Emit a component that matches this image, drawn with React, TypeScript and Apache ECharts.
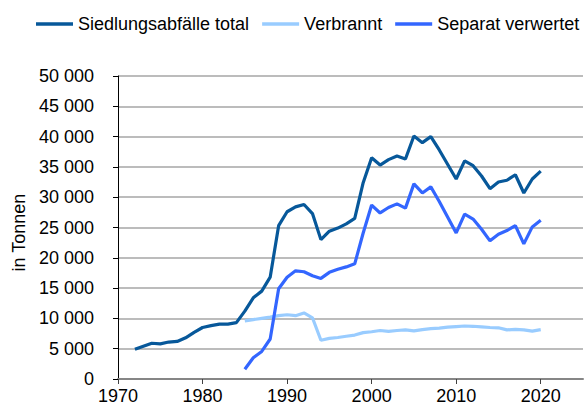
import React, { useEffect, useRef } from "react";
import * as echarts from "echarts";

const seriesNames = ["Siedlungsabfälle total", "Verbrannt", "Separat verwertet"];
const seriesColors = ["#07589a", "#99ccff", "#3366ff"];

const totalStartYear = 1972;
const totalValues = [
  4900, 5400, 5900, 5800, 6100, 6200, 6800, 7700, 8500, 8800,
  9050, 9050, 9300, 11200, 13400, 14500, 16800, 25300, 27600, 28400,
  28800, 27300, 23000, 24400, 24900, 25600, 26500, 32400, 36500, 35300,
  36200, 36800, 36300, 40100, 39000, 40000, 37800, 35400, 33000, 36000,
  35200, 33500, 31400, 32500, 32800, 33700, 30700, 33000, 34300,
];

const verbranntStartYear = 1985;
const verbranntValues = [
  9600, 9800, 10000, 10200, 10450, 10600, 10450, 10900, 10100, 6400,
  6700, 6850, 7050, 7250, 7650, 7800, 8000, 7850, 8000, 8100,
  7950, 8150, 8300, 8400, 8550, 8650, 8750, 8700, 8600, 8500,
  8450, 8100, 8200, 8100, 7900, 8150,
];

const separatStartYear = 1985;
const separatValues = [
  1600, 3500, 4550, 6600, 14900, 16800, 17850, 17700, 17050, 16600,
  17600, 18100, 18500, 19000, 24100, 28700, 27400, 28300, 28900, 28200,
  32200, 30700, 31700, 29300, 26700, 24100, 27200, 26400, 24700, 22800,
  23900, 24500, 25300, 22300, 25100, 26200,
];

const xTickLabels = [1970, 1980, 1990, 2000, 2010, 2020];
const xMin = 1970;
const xMax = 2025;
const yMin = 0;
const yMax = 50000;
const yInterval = 5000;
const yAxisName = "in Tonnen";

const toPairs = (start: number, vals: number[]) => vals.map((v, i) => [start + i, v]);

const FONT = "'Liberation Sans', Arial, sans-serif";
const FS = 18;

export default function App() {
  const ref = useRef<HTMLDivElement>(null);
  useEffect(() => {
    if (!ref.current) return;
    const chart = echarts.init(ref.current, undefined, { renderer: "svg" });
    const datasets = [
      toPairs(totalStartYear, totalValues),
      toPairs(verbranntStartYear, verbranntValues),
      toPairs(separatStartYear, separatValues),
    ];
    chart.setOption({
      animation: false,
      backgroundColor: "#ffffff",
      textStyle: { fontFamily: FONT },
      legend: {
        left: 31,
        top: 10,
        itemWidth: 37,
        itemHeight: 3.5,
        itemGap: 13,
        icon: "rect",
        textStyle: { fontSize: FS, color: "#000", fontFamily: FONT },
        data: seriesNames,
      },
      grid: { left: 118, right: 2, top: 76, bottom: 28, containLabel: false },
      xAxis: {
        type: "value",
        min: xMin,
        max: xMax,
        interval: 10,
        axisLine: { show: true, lineStyle: { color: "#868686", width: 2 } },
        axisTick: { show: true, length: 5, lineStyle: { color: "#404040" }, customValues: xTickLabels },
        axisLabel: {
          customValues: xTickLabels,
          fontSize: FS,
          color: "#000",
          fontFamily: FONT,
          margin: 8,
          formatter: (v: number) => String(v),
        },
        splitLine: { show: false },
      },
      yAxis: {
        type: "value",
        min: yMin,
        max: yMax,
        interval: yInterval,
        name: yAxisName,
        nameLocation: "middle",
        nameGap: 88,
        nameTextStyle: { fontSize: FS, color: "#000", fontFamily: FONT, padding: [0, 10, 0, 0] },
        axisLine: { show: true, lineStyle: { color: "#000", width: 1 } },
        axisTick: { show: true, length: 5, lineStyle: { color: "#000" } },
        axisLabel: {
          fontSize: FS,
          color: "#000",
          fontFamily: FONT,
          margin: 24,
          formatter: (v: number) => String(v).replace(/\B(?=(\d{3})+(?!\d))/g, " "),
        },
        splitLine: { show: true, lineStyle: { color: "#a6a6a6", width: 1.5 } },
      },
      series: seriesNames.map((name, i) => ({
        name,
        type: "line",
        data: datasets[i],
        symbol: "none",
        color: seriesColors[i],
        lineStyle: { width: 3.2, color: seriesColors[i] },
      })),
    });
    return () => chart.dispose();
  }, []);
  return <div ref={ref} style={{ width: 585, height: 407, position: "absolute", left: 0, top: 0 }} />;
}
